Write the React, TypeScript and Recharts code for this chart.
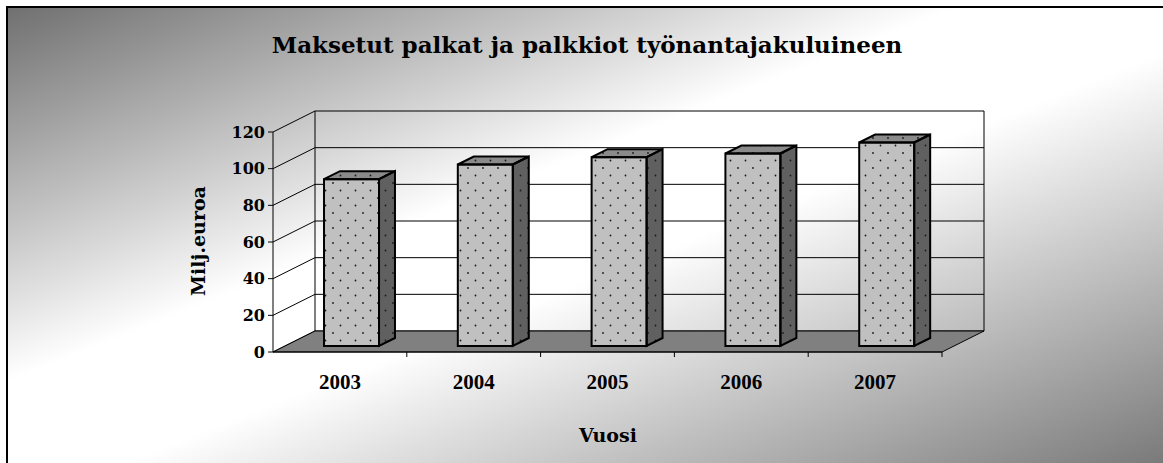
import { BarChart, Bar, XAxis, YAxis, CartesianGrid, ReferenceArea } from "recharts";

// vuodet ja arvot (milj. euroa)
const years = ["2003", "2004", "2005", "2006", "2007"];
const palkat = [91, 99, 103, 105, 111];
const yTicks = [0, 20, 40, 60, 80, 100, 120];

const data = years.map((year, i) => ({ year, value: palkat[i] }));

// 3D-syvyys (takaseinän siirtymä)
const DX = 42;
const DY = 21;
const BAR_OFF = 0.286; // pylvään etupinnan syvyys
const BAR_DEPTH = 0.38; // pylvään paksuus

const FONT = "'DejaVu Serif', serif";
const FONT2 = "'Liberation Serif', serif";

// pylväs laatikkona
function Box3D(props: any) {
  const { x, y, width, height } = props;
  if (width == null || height == null) return null;
  const fx = x + DX * BAR_OFF;
  const fy = y - DY * BAR_OFF;
  const bx = DX * BAR_DEPTH;
  const by = DY * BAR_DEPTH;
  const top = `${fx},${fy} ${fx + bx},${fy - by} ${fx + width + bx},${fy - by} ${fx + width},${fy}`;
  const side = `${fx + width},${fy} ${fx + width + bx},${fy - by} ${fx + width + bx},${fy + height - by} ${fx + width},${fy + height}`;
  return (
    <g>
      <polygon points={top} fill="#8a8a8a" />
      <polygon points={top} fill="url(#dots)" />
      <polygon points={side} fill="#606060" />
      <polygon points={side} fill="url(#dots)" />
      <rect x={fx} y={fy} width={width} height={height} fill="#c0c0c0" />
      <rect x={fx} y={fy} width={width} height={height} fill="url(#dots)" />
      <polygon points={top} fill="none" stroke="#000" strokeWidth={2} strokeLinejoin="miter" />
      <polygon points={side} fill="none" stroke="#000" strokeWidth={2} strokeLinejoin="miter" />
      <rect x={fx} y={fy} width={width} height={height} fill="none" stroke="#000" strokeWidth={2} />
    </g>
  );
}

// ruudukon viivat: vino sivuseinällä + vaaka takaseinällä
const gridLine = (p: any) => {
  const { x1, x2, y1 } = p;
  return (
    <g key={p.key}>
      <line x1={x1} y1={y1} x2={x1 + DX} y2={y1 - DY} stroke="#000" strokeWidth={1} />
      <line x1={x1 + DX} y1={y1 - DY} x2={x2 + DX} y2={y1 - DY} stroke="#000" strokeWidth={1} />
    </g>
  );
};

// lattia, takaseinän reunat ja x-akselin jakoviivat
function Walls(props: any) {
  const { x, y, width, height } = props;
  if (width == null) return null;
  const bottom = y + height;
  const n = years.length;
  return (
    <g>
      <defs>
        <pattern id="dots" width={15} height={15} patternUnits="userSpaceOnUse">
          <circle cx={3} cy={3} r={0.9} fill="#1a1a1a" />
          <circle cx={10.5} cy={10.5} r={0.9} fill="#1a1a1a" />
        </pattern>
      </defs>
      <polygon
        points={`${x},${bottom} ${x + DX},${bottom - DY} ${x + width + DX},${bottom - DY} ${x + width},${bottom}`}
        fill="#808080"
        stroke="#000"
        strokeWidth={1}
      />
      <line x1={x + DX} y1={y - DY} x2={x + DX} y2={bottom - DY} stroke="#000" />
      <line x1={x + width + DX} y1={y - DY} x2={x + width + DX} y2={bottom - DY} stroke="#000" />
      {years.map((_, i) => (
        <line
          key={i}
          x1={x + ((i + 1) * width) / n}
          y1={bottom}
          x2={x + ((i + 1) * width) / n}
          y2={bottom + 5}
          stroke="#000"
        />
      ))}
    </g>
  );
}

function XTick(props: any) {
  const { x, y, payload } = props;
  return (
    <text x={x} y={y + 37} textAnchor="middle" fontFamily={FONT2} fontWeight="bold" fontSize={21} fill="#000">
      {payload.value}
    </text>
  );
}

export default function App() {
  return (
    <div style={{ position: "absolute", left: 0, top: 0, width: 1163, height: 463, overflow: "hidden", background: "#fff" }}>
      {/* kehys ja liukuväri */}
      <div
        style={{
          position: "absolute",
          left: 6,
          top: 6,
          width: 1159,
          height: 459,
          boxSizing: "border-box",
          border: "2px solid #000",
          background:
            "linear-gradient(to bottom right, #707070 0%, #ffffff 41%, #ffffff 55%, #7a7a7a 100%)",
        }}
      />
      <div style={{ position: "absolute", left: 0, top: 0 }}>
        <BarChart
          width={1163}
          height={463}
          data={data}
          margin={{ top: 132, right: 221, bottom: 81, left: 213 }}
        >
          <CartesianGrid horizontal={gridLine} vertical={false} />
          <ReferenceArea y1={0} y2={120} shape={(p: any) => <Walls {...p} />} />
          <XAxis
            dataKey="year"
            height={30}
            axisLine={{ stroke: "#000", strokeWidth: 1 }}
            tickLine={false}
            tickSize={0}
            tickMargin={0}
            tick={<XTick />}
            interval={0}
          />
          <YAxis
            width={60}
            domain={[0, 120]}
            ticks={yTicks}
            interval={0}
            axisLine={{ stroke: "#000", strokeWidth: 1 }}
            tickLine={{ stroke: "#000" }}
            tickSize={5}
            tickMargin={3}
            tick={{ fill: "#000", fontFamily: FONT, fontWeight: "bold", fontSize: 16 }}
          />
          <Bar dataKey="value" barSize={55} shape={(p: any) => <Box3D {...p} />} isAnimationActive={false} />
        </BarChart>
      </div>
      {/* otsikot */}
      <svg width={1163} height={463} style={{ position: "absolute", left: 0, top: 0, pointerEvents: "none" }}>
        <text x={587} y={53} textAnchor="middle" fontFamily={FONT} fontWeight="bold" fontSize={23} fill="#000">
          Maksetut palkat ja palkkiot työnantajakuluineen
        </text>
        <text x={608} y={442} textAnchor="middle" fontFamily={FONT} fontWeight="bold" fontSize={19} fill="#000">
          Vuosi
        </text>
        <text
          x={205}
          y={241}
          textAnchor="middle"
          transform="rotate(-90 205 241)"
          fontFamily={FONT}
          fontWeight="bold"
          fontSize={19}
          fill="#000"
        >
          Milj.euroa
        </text>
      </svg>
    </div>
  );
}
